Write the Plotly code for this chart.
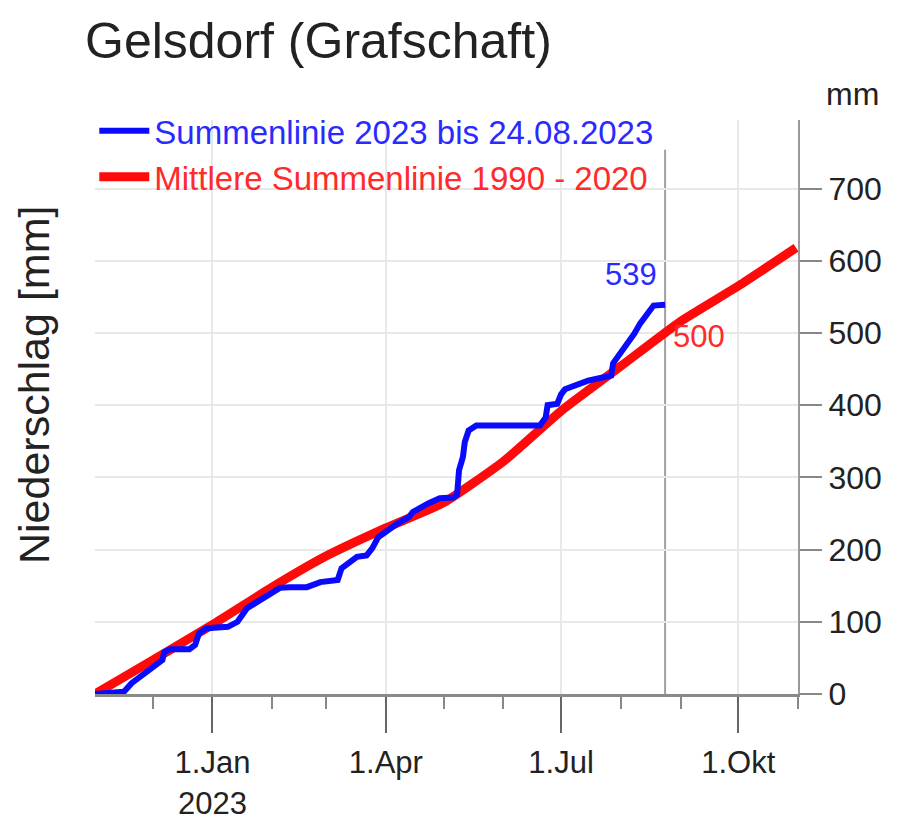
import plotly.graph_objects as go

# ---- data ----
blue_dates = ["2022-11-01", "2022-11-16", "2022-11-20", "2022-11-24", "2022-12-01", "2022-12-06",
              "2022-12-07", "2022-12-10", "2022-12-20", "2022-12-23", "2022-12-25", "2022-12-29",
              "2023-01-09", "2023-01-14", "2023-01-19", "2023-01-24", "2023-02-05", "2023-02-10",
              "2023-02-19", "2023-02-26", "2023-03-07", "2023-03-09", "2023-03-14", "2023-03-17",
              "2023-03-22", "2023-03-25", "2023-03-28", "2023-04-02", "2023-04-07", "2023-04-13",
              "2023-04-15", "2023-04-23", "2023-04-29", "2023-05-06", "2023-05-08", "2023-05-09",
              "2023-05-11", "2023-05-12", "2023-05-14", "2023-05-18", "2023-06-20", "2023-06-23",
              "2023-06-24", "2023-06-29", "2023-07-01", "2023-07-03", "2023-07-08", "2023-07-15",
              "2023-07-22", "2023-07-27", "2023-07-28", "2023-08-01", "2023-08-05", "2023-08-08",
              "2023-08-11", "2023-08-15", "2023-08-18", "2023-08-24"]
blue_values = [0, 3, 15, 23, 37, 47,
               58, 62, 62, 68, 84, 91,
               93, 100, 119, 127, 147, 148,
               148, 155, 158, 174, 183, 190,
               192, 202, 217, 227, 236, 245,
               252, 264, 271, 272, 276, 310,
               328, 349, 365, 372, 372, 383,
               400, 402, 415, 422, 427, 434,
               438, 441, 458, 472, 487, 499,
               513, 527, 538, 539]

red_dates = ["2022-11-01", "2022-12-01", "2023-01-01", "2023-02-01", "2023-03-01", "2023-04-01",
             "2023-05-01", "2023-06-01", "2023-07-01", "2023-08-01", "2023-09-01", "2023-10-01",
             "2023-10-31"]
red_values = [0, 47, 96, 148, 191, 230, 265, 322, 392, 454, 516, 565, 618]

end_date = "2023-08-24"
blue_label = "539"
red_label = "500"
red_at_end = 500

major_tick_dates = ["2023-01-01", "2023-04-01", "2023-07-01", "2023-10-01"]
major_tick_text = ["1.Jan<br>2023", "1.Apr", "1.Jul", "1.Okt"]
minor_tick_dates = ["2022-12-01", "2023-02-01", "2023-03-01", "2023-05-01", "2023-06-01",
                    "2023-08-01", "2023-09-01", "2023-11-01"]
y_ticks = [0, 100, 200, 300, 400, 500, 600, 700]

title_text = "Gelsdorf (Grafschaft)"
y_title = "Niederschlag [mm]"
blue_name = "Summenlinie 2023 bis 24.08.2023"
red_name = "Mittlere Summenlinie 1990 - 2020"

BLUE = "#0a0aff"
RED = "#ff0a0a"
FONT = "Liberation Sans, Arial, sans-serif"

# page body has an 8px margin -> figure drawn 8px right/down
W, H = 900, 816

fig = go.Figure()
fig.add_trace(go.Scatter(
    x=red_dates, y=red_values, mode="lines",
    line=dict(color=RED, width=9, shape="spline", smoothing=0.5),
    name=f"<span style='color:#ff2a2a'>{red_name}</span>", legendrank=2))
fig.add_trace(go.Scatter(
    x=blue_dates, y=blue_values, mode="lines",
    line=dict(color=BLUE, width=6),
    name=f"<span style='color:#2a2aff'>{blue_name}</span>", legendrank=1))

fig.add_shape(type="line", xref="x", yref="paper", x0=end_date, x1=end_date,
              y0=0, y1=0.948, line=dict(color="#a0a0a0", width=2), layer="below")

fig.add_annotation(x=end_date, y=blue_values[-1], text=blue_label, showarrow=False,
                   xanchor="right", yanchor="middle", xshift=-6, yshift=30,
                   font=dict(family=FONT, size=31, color="#2a2aff"))
fig.add_annotation(x=end_date, y=red_at_end, text=red_label, showarrow=False,
                   xanchor="left", yanchor="middle", xshift=6, yshift=-4,
                   font=dict(family=FONT, size=31, color="#ff2a2a"))
fig.add_annotation(xref="paper", yref="paper", x=-0.087, y=0.538, text=y_title,
                   textangle=-90, showarrow=False, xanchor="center", yanchor="middle",
                   font=dict(family=FONT, size=43, color="#222"))
fig.add_annotation(xref="paper", yref="paper", x=1.078, y=1.0, text="mm",
                   showarrow=False, xanchor="center", yanchor="bottom", yshift=6,
                   font=dict(family=FONT, size=32, color="#222"))

fig.update_layout(
    width=W, height=H,
    margin=dict(l=87, r=110, t=112, b=130, autoexpand=False),
    paper_bgcolor="white", plot_bgcolor="white",
    font=dict(family=FONT, color="#222"),
    title=dict(text=title_text, xref="container", x=(85 - 8) / W, xanchor="left",
               yref="container", y=1 - (40 - 8) / H, yanchor="middle",
               font=dict(family=FONT, size=50, color="#222")),
    showlegend=True,
    legend=dict(x=-0.001, y=1.03, xanchor="left", yanchor="top",
                bgcolor="rgba(0,0,0,0)", font=dict(family=FONT, size=33),
                itemwidth=50, tracegroupgap=0),
    xaxis=dict(type="date", range=["2022-11-01", "2023-11-01"], automargin=False,
               tickmode="array", tickvals=major_tick_dates, ticktext=major_tick_text,
               ticks="outside", ticklen=36, tickwidth=2, tickcolor="#666",
               ticklabelstandoff=3,
               tickfont=dict(family=FONT, size=31, color="#222"),
               showgrid=True, gridcolor="#e8e8e8", gridwidth=2,
               showline=True, linecolor="#8a8a8a", linewidth=3, zeroline=False,
               minor=dict(tickmode="array", tickvals=minor_tick_dates, ticks="outside",
                          ticklen=12, tickwidth=2, tickcolor="#888", showgrid=False)),
    yaxis=dict(side="right", range=[0, 795], tickmode="array", tickvals=y_ticks,
               automargin=False,
               ticks="outside", ticklen=22, tickwidth=2, tickcolor="#888",
               tickfont=dict(family=FONT, size=32, color="#222"),
               showgrid=True, gridcolor="#e8e8e8", gridwidth=2,
               showline=True, linecolor="#9a9a9a", linewidth=2, zeroline=False),
)

fig.write_html("out.html")
